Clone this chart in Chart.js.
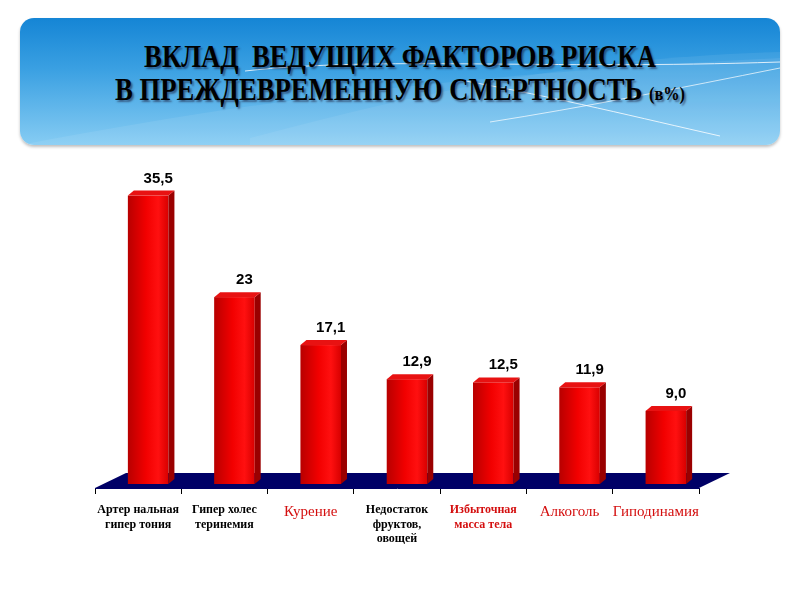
<!DOCTYPE html>
<html>
<head>
<meta charset="utf-8">
<script src="https://cdn.jsdelivr.net/npm/chart.js@4"></script>
<style>
body { margin: 0; width: 800px; height: 600px; background: #fff; position: relative; overflow: hidden; }
#banner { position: absolute; left: 20px; top: 18px; width: 760px; height: 127px; border-radius: 14px;
  background: linear-gradient(#1585d5, #3aa0e2 40%, #86ccf3); overflow: hidden; box-shadow: 0 2px 3px rgba(0,0,0,.25); }
#banner svg { position: absolute; left: 0; top: 0; }
.title { position: absolute; left: 0; width: 760px; text-align: center; font-family: 'Liberation Serif', serif;
  font-weight: bold; font-size: 31px; color: #000; text-shadow: 2px 2px 2px rgba(30,30,60,.55);
  transform: scaleX(.86); white-space: nowrap; }
.t1 { top: 21px; }
.t2 { top: 54px; }
.small { font-size: 19px; }
#wrap { position: absolute; left: 0; top: 0; width: 800px; height: 600px; }
</style>
</head>
<body>
<div id="banner">
  <svg width="760" height="127">
    <path d="M0,127 C200,90 380,60 760,40 L760,127 Z" fill="#ffffff" opacity="0.08"/>
    <path d="M230,120 C420,70 560,40 760,34 L760,127 L230,127 Z" fill="#ffffff" opacity="0.07"/>
    <path d="M225,53 C360,38 520,52 760,44" stroke="#ffffff" stroke-width="1" fill="none" opacity="0.8"/>
    <path d="M440,62 C540,80 620,100 700,118" stroke="#ffffff" stroke-width="1" fill="none" opacity="0.8"/>
    <path d="M470,104 C560,90 660,70 760,50" stroke="#ffffff" stroke-width="1" fill="none" opacity="0.7"/>
  </svg>
  <div class="title t1">ВКЛАД&nbsp; ВЕДУЩИХ ФАКТОРОВ РИСКА</div>
  <div class="title t2">В ПРЕЖДЕВРЕМЕННУЮ СМЕРТНОСТЬ <span class="small">(в%)</span></div>
</div>
<div id="wrap"><canvas id="chart" width="800" height="600"></canvas></div>
<script>
const categories = [
    ['Артер нальная', 'гипер тония'],
    ['Гипер холес', 'теринемия'],
    'Курение',
    ['Недостаток', 'фруктов,', 'овощей'],
    ['Избыточная', 'масса тела'],
    'Алкоголь',
    'Гиподинамия'
];
const values = [35.5, 23, 17.1, 12.9, 12.5, 11.9, 9.0];
const valueLabels = ['35,5', '23', '17,1', '12,9', '12,5', '11,9', '9,0'];

// цвет и шрифт подписей по категориям
const labelColors = ['#000', '#000', '#d40f0f', '#000', '#d40f0f', '#d40f0f', '#d40f0f'];
const labelFonts = [
    {family: 'Liberation Serif', size: 12, weight: 'bold'},
    {family: 'Liberation Serif', size: 12, weight: 'bold'},
    {family: 'Liberation Serif', size: 15},
    {family: 'Liberation Serif', size: 12, weight: 'bold'},
    {family: 'Liberation Serif', size: 12, weight: 'bold'},
    {family: 'Liberation Serif', size: 15},
    {family: 'Liberation Serif', size: 15}
];

const dx = 6, dy = -5;

const bars3d = {
    id: 'bars3d',
    beforeDatasetsDraw(chart) {
        const {ctx, chartArea: a} = chart;
        ctx.save();
        // пол
        ctx.fillStyle = '#000066';
        ctx.beginPath();
        ctx.moveTo(a.left, a.bottom);
        ctx.lineTo(a.right, a.bottom);
        ctx.lineTo(a.right + 31, a.bottom - 15);
        ctx.lineTo(a.left + 31, a.bottom - 15);
        ctx.closePath();
        ctx.fill();
        ctx.translate(10, -4);
    },
    afterDatasetsDraw(chart) {
        const ctx = chart.ctx;
        chart.getDatasetMeta(0).data.forEach((bar, i) => {
            const l = bar.x - bar.width / 2, r = bar.x + bar.width / 2, t = bar.y, b = bar.base;

            const g = ctx.createLinearGradient(l, 0, r, 0);
            g.addColorStop(0, '#b80000');
            g.addColorStop(0.45, '#f20000');
            g.addColorStop(0.75, '#ff1010');
            g.addColorStop(1, '#d80000');
            ctx.fillStyle = g;
            ctx.fillRect(l, t, r - l, b - t);

            ctx.fillStyle = '#9a0000';
            ctx.beginPath();
            ctx.moveTo(r, t); ctx.lineTo(r + dx, t + dy); ctx.lineTo(r + dx, b + dy); ctx.lineTo(r, b);
            ctx.closePath(); ctx.fill();

            ctx.fillStyle = '#e81212';
            ctx.beginPath();
            ctx.moveTo(l, t); ctx.lineTo(r, t); ctx.lineTo(r + dx, t + dy); ctx.lineTo(l + dx, t + dy);
            ctx.closePath(); ctx.fill();

            ctx.fillStyle = '#000';
            ctx.font = 'bold 15px "Liberation Sans", Arial';
            ctx.textAlign = 'center';
            ctx.textBaseline = 'alphabetic';
            ctx.fillText(valueLabels[i], bar.x + 10, t + dy - 8);
        });
        ctx.restore();
    }
};

new Chart(document.getElementById('chart'), {
    type: 'bar',
    data: {
        labels: categories,
        datasets: [{
            data: values,
            backgroundColor: 'rgba(0,0,0,0)',
            barPercentage: 0.47,
            categoryPercentage: 1
        }]
    },
    options: {
        responsive: false,
        animation: false,
        layout: { padding: { left: 95, right: 101, top: 163, bottom: 42 } },
        plugins: { legend: { display: false }, tooltip: { enabled: false } },
        scales: {
            y: { display: false, min: 0, max: 40 },
            x: {
                grid: { display: true, drawOnChartArea: false, tickLength: 6, color: '#000', offset: true },
                border: { display: true, color: '#000066' },
                ticks: {
                    color: c => labelColors[c.index],
                    font: c => labelFonts[c.index],
                    padding: 9,
                    maxRotation: 0,
                    autoSkip: false
                },
                afterFit: s => { s.height = 70; }
            }
        }
    },
    plugins: [bars3d]
});
</script>
</body>
</html>
